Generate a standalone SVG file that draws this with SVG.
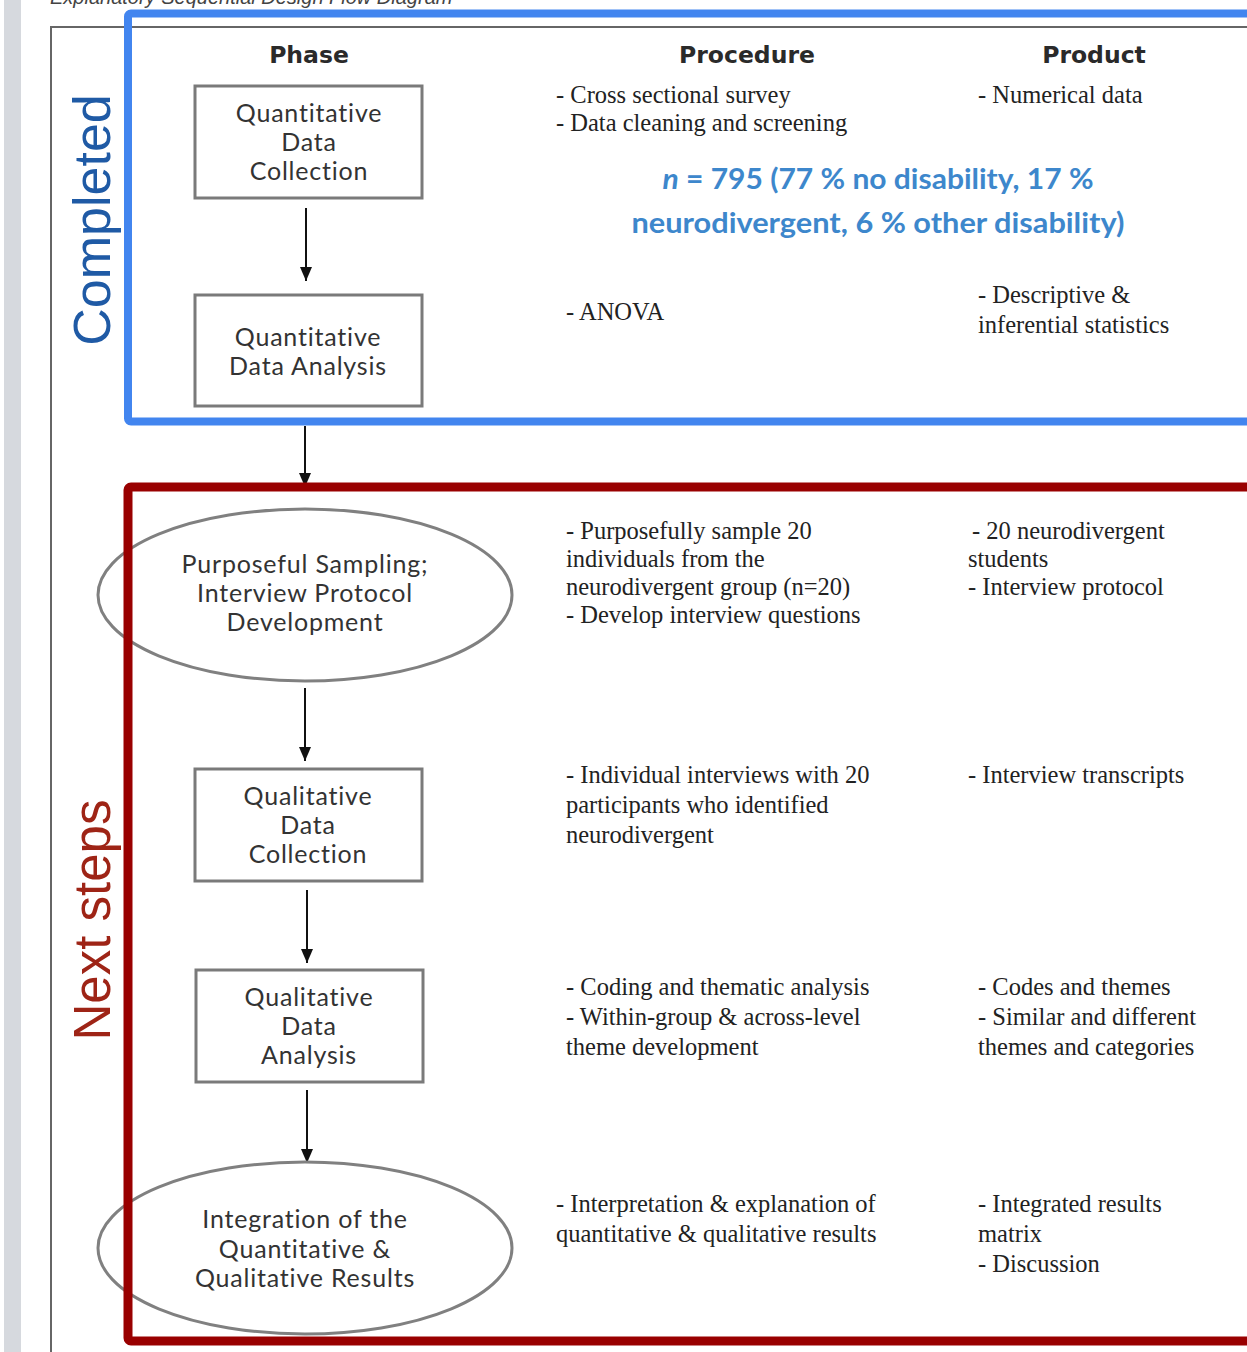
<svg xmlns="http://www.w3.org/2000/svg" width="1247" height="1352" viewBox="0 0 1247 1352">
<style>
.hdr{font-family:"DejaVu Sans",Lato,sans-serif;font-weight:bold;font-size:23.5px;fill:#2a2a2a;text-anchor:middle}
.nl{font-family:Lato,"Liberation Sans",sans-serif;font-size:25px;fill:#333;text-anchor:middle;letter-spacing:0.8px}
.box{fill:#fff;stroke:#7a7a7a;stroke-width:3}
.ell{fill:#fff;stroke:#808080;stroke-width:3}
.tx{font-family:"Liberation Serif","Times New Roman",serif;font-size:24.5px;fill:#222}
.conn line{stroke:#111;stroke-width:2}
.blue{font-family:Lato,"Open Sans",sans-serif;font-weight:bold;font-size:29px;fill:#3d87cc;text-anchor:middle}
</style>
<defs>
<marker id="ah" markerWidth="14" markerHeight="12" refX="14" refY="6" orient="auto" markerUnits="userSpaceOnUse" viewBox="0 0 14 12">
<path d="M0,0 L14,6 L0,12 Z" fill="#111"/>
</marker>
</defs>
<rect width="1247" height="1352" fill="#fff"/>
<rect x="4" y="0" width="17" height="1352" fill="#d6d9de"/>
<text x="50" y="4" font-family="Liberation Sans, Arial, sans-serif" font-style="italic" font-size="20" fill="#444">Explanatory Sequential Design Flow Diagram</text>
<!-- outer frame -->
<path d="M51,1352 L51,27 L1247,27" fill="none" stroke="#666" stroke-width="2"/>
<!-- headers -->
<g id="headers">
<text class="hdr" x="309" y="63">Phase</text>
<text class="hdr" x="747" y="63">Procedure</text>
<text class="hdr" x="1094" y="63">Product</text>
</g>
<!-- connectors -->
<g id="connectors" class="conn">
<line x1="306" y1="208" x2="306" y2="281" marker-end="url(#ah)"/>
<line x1="305" y1="426" x2="305" y2="487" marker-end="url(#ah)"/>
<line x1="305" y1="688" x2="305" y2="761" marker-end="url(#ah)"/>
<line x1="307" y1="890" x2="307" y2="963" marker-end="url(#ah)"/>
<line x1="307" y1="1090" x2="307" y2="1163" marker-end="url(#ah)"/>
</g>
<!-- nodes -->
<g id="node-quant-collection">
<rect class="box" x="195" y="86" width="227" height="112"/>
<text class="nl" x="309" y="122">Quantitative</text>
<text class="nl" x="309" y="151">Data</text>
<text class="nl" x="309" y="180">Collection</text>
</g>
<g id="node-quant-analysis">
<rect class="box" x="195" y="295" width="227" height="111"/>
<text class="nl" x="308" y="346">Quantitative</text>
<text class="nl" x="308" y="375">Data Analysis</text>
</g>
<g id="node-sampling">
<ellipse class="ell" cx="305" cy="595" rx="207" ry="86"/>
<text class="nl" x="305" y="573">Purposeful Sampling;</text>
<text class="nl" x="305" y="602">Interview Protocol</text>
<text class="nl" x="305" y="631">Development</text>
</g>
<g id="node-qual-collection">
<rect class="box" x="195" y="769" width="227" height="112"/>
<text class="nl" x="308" y="805">Qualitative</text>
<text class="nl" x="308" y="834">Data</text>
<text class="nl" x="308" y="863">Collection</text>
</g>
<g id="node-qual-analysis">
<rect class="box" x="196" y="970" width="227" height="112"/>
<text class="nl" x="309" y="1006">Qualitative</text>
<text class="nl" x="309" y="1035">Data</text>
<text class="nl" x="309" y="1064">Analysis</text>
</g>
<g id="node-integration">
<ellipse class="ell" cx="305" cy="1248" rx="207" ry="86"/>
<text class="nl" x="305" y="1228">Integration of the</text>
<text class="nl" x="305" y="1258">Quantitative &amp;</text>
<text class="nl" x="305" y="1287">Qualitative Results</text>
</g>
<!-- section frames -->
<g id="completed-frame">
<rect x="128" y="13.5" width="1140" height="408" rx="3" fill="none" stroke="#4285ef" stroke-width="8"/>
<text transform="translate(110,220) rotate(-90)" text-anchor="middle" font-family="Liberation Sans, Arial, sans-serif" font-size="52" fill="#1f5aa5">Completed</text>
</g>
<g id="next-frame">
<rect x="128" y="487" width="1140" height="854" rx="3" fill="none" stroke="#990000" stroke-width="9"/>
<text transform="translate(110,920) rotate(-90)" text-anchor="middle" font-family="Liberation Sans, Arial, sans-serif" font-size="51" fill="#9e2416">Next steps</text>
</g>
<!-- procedure / product texts -->
<g id="row1">
<text class="tx" x="556" y="103">- Cross sectional survey</text>
<text class="tx" x="556" y="131">- Data cleaning and screening</text>
<text class="tx" x="978" y="103">- Numerical data</text>
<text class="blue" x="878" y="189" textLength="431" lengthAdjust="spacingAndGlyphs"><tspan font-style="italic">n</tspan> = 795 (77 % no disability, 17 %</text>
<text class="blue" x="878" y="233" textLength="493" lengthAdjust="spacingAndGlyphs">neurodivergent, 6 % other disability)</text>
</g>
<g id="row2">
<text class="tx" x="566" y="320">- ANOVA</text>
<text class="tx" x="978" y="303">- Descriptive &amp;</text>
<text class="tx" x="978" y="333">inferential statistics</text>
</g>
<g id="row3">
<text class="tx" x="566" y="539">- Purposefully sample 20</text>
<text class="tx" x="566" y="567">individuals from the</text>
<text class="tx" x="566" y="595">neurodivergent group (n=20)</text>
<text class="tx" x="566" y="623">- Develop interview questions</text>
<text class="tx" x="972" y="539">- 20 neurodivergent</text>
<text class="tx" x="968" y="567">students</text>
<text class="tx" x="968" y="595">- Interview protocol</text>
</g>
<g id="row4">
<text class="tx" x="566" y="783">- Individual interviews with 20</text>
<text class="tx" x="566" y="813">participants who identified</text>
<text class="tx" x="566" y="843">neurodivergent</text>
<text class="tx" x="968" y="783">- Interview transcripts</text>
</g>
<g id="row5">
<text class="tx" x="566" y="995">- Coding and thematic analysis</text>
<text class="tx" x="566" y="1025">- Within-group &amp; across-level</text>
<text class="tx" x="566" y="1055">theme development</text>
<text class="tx" x="978" y="995">- Codes and themes</text>
<text class="tx" x="978" y="1025">- Similar and different</text>
<text class="tx" x="978" y="1055">themes and categories</text>
</g>
<g id="row6">
<text class="tx" x="556" y="1212">- Interpretation &amp; explanation of</text>
<text class="tx" x="556" y="1242">quantitative &amp; qualitative results</text>
<text class="tx" x="978" y="1212">- Integrated results</text>
<text class="tx" x="978" y="1242">matrix</text>
<text class="tx" x="978" y="1272">- Discussion</text>
</g>
</svg>
